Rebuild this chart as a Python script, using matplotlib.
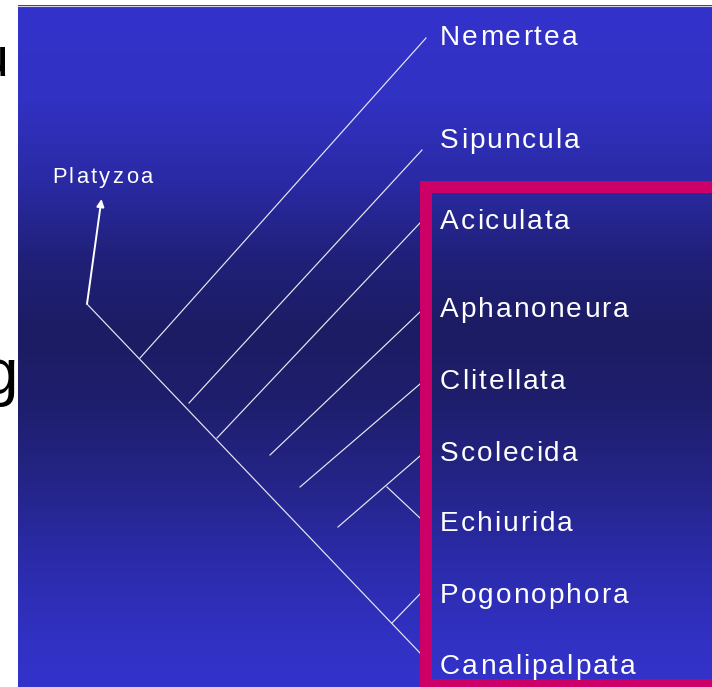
import numpy as np
import matplotlib
matplotlib.use("Agg")
import matplotlib.pyplot as plt
from matplotlib.patches import Rectangle
from matplotlib import font_manager, ft2font

DPI = 100
W, H = 712, 687

# ---- data (pixel layout of the cladogram) ----
taxa = ["Nemertea", "Sipuncula", "Aciculata", "Aphanoneura", "Clitellata",
        "Scolecida", "Echiurida", "Pogonophora", "Canalipalpata"]
label_baseline = [45, 148, 229, 317, 389, 461, 531, 603, 674]
label_x = 440

# main stem
stem_start = (87, 304)
stem_end = (420, 653)
# side branches: base -> tip
branch_x0 = [140, 189, 217, 270, 300, 338, 387, 392]
branch_y0 = [358, 403, 438, 455, 487, 527, 487, 623]
branch_x1 = [426, 422, 420, 420, 420, 420, 420, 420]
branch_y1 = [38, 150, 223, 312, 384, 456, 518, 594]

outgroup_label = "Platyzoa"
outgroup_pos = (52, 183)
arrow_tip = (101.5, 199)

# highlight box (outer left, outer top, outer bottom, border thickness)
box_left, box_top, box_bottom, box_border = 420, 181, 691, 12

# background gradient stops
grad_y = [5, 100, 180, 260, 330, 400, 480, 560, 640, 687]
grad_rg = [51, 49, 42, 32, 28, 30, 36, 43, 49, 51]
grad_b = [204, 195, 165, 120, 100, 108, 135, 170, 195, 204]

fig = plt.figure(figsize=(W / DPI, H / DPI), dpi=DPI)
fig.patch.set_facecolor("white")
ax = fig.add_axes([0, 0, 1, 1])
ax.set_xlim(0, W)
ax.set_ylim(H, 0)
ax.axis("off")

# stray letters of the slide behind (cut off at the left edge, as in the source)
ax.text(8.5, 75, "u", fontsize=40, family="Liberation Sans", color="black",
        ha="right", va="baseline")
ax.text(17.5, 394, "g", fontsize=46, family="Liberation Sans", color="black",
        ha="right", va="baseline")

# gradient panel
ys = np.arange(5, H + 1)
rg = np.interp(ys, grad_y, grad_rg) / 255
bb = np.interp(ys, grad_y, grad_b) / 255
img = np.stack([rg, rg, bb], axis=1)[:, None, :]
ax.imshow(img, extent=[18, W, H, 5], aspect="auto", interpolation="bilinear",
          zorder=1)
ax.plot([18, W], [5.5, 5.5], color="#d4d4e8", lw=0.8, zorder=2)

LC = "#e8e8f4"
LW = 0.85
ax.plot([stem_start[0], stem_end[0]], [stem_start[1], stem_end[1]],
        color=LC, lw=LW, zorder=3)
for x0, y0, x1, y1 in zip(branch_x0, branch_y0, branch_x1, branch_y1):
    ax.plot([x0, x1], [y0, y1], color=LC, lw=LW, zorder=3)

# arrow to Platyzoa
ax.annotate("", xy=arrow_tip, xytext=stem_start,
            arrowprops=dict(arrowstyle="-|>", color="white", lw=1.4,
                            mutation_scale=11, shrinkA=0, shrinkB=0),
            zorder=4)

# letter-spaced text helper
fprop = font_manager.FontProperties(family="Liberation Sans")
fpath = font_manager.findfont(fprop)
ftf = ft2font.FT2Font(fpath)


def advances(s, px):
    ftf.set_size(px * 72 / DPI, DPI)
    out = []
    for c in s:
        try:
            g = ftf.load_char(ord(c))
            out.append(g.linearHoriAdvance / 65536)
        except Exception:
            out.append(px * 0.55)
    return out


def spaced_text(x, y, s, px, track, color="white", z=6):
    adv = advances(s, px)
    cx = x
    for c, a in zip(s, adv):
        ax.text(cx, y, c, fontsize=px * 72 / DPI, family="Liberation Sans",
                color=color, ha="left", va="baseline", zorder=z)
        cx += a + track


for name, yb in zip(taxa, label_baseline):
    spaced_text(label_x, yb, name, 28, 2.0)

spaced_text(outgroup_pos[0], outgroup_pos[1], outgroup_label, 22, 2.3)

# highlight box as filled bars (right side runs off the slide)
PINK = "#CC0066"
bars = [
    (box_left, box_top, box_border, box_bottom - box_top),          # left
    (box_left, box_top, W + 20 - box_left, box_border),             # top
    (box_left, box_bottom - box_border, W + 20 - box_left, box_border),  # bottom
]
for bx, by, bw, bh in bars:
    ax.add_patch(Rectangle((bx, by), bw, bh, facecolor=PINK, edgecolor="none",
                           zorder=5))

fig.savefig("out.png", dpi=DPI, facecolor="white")
